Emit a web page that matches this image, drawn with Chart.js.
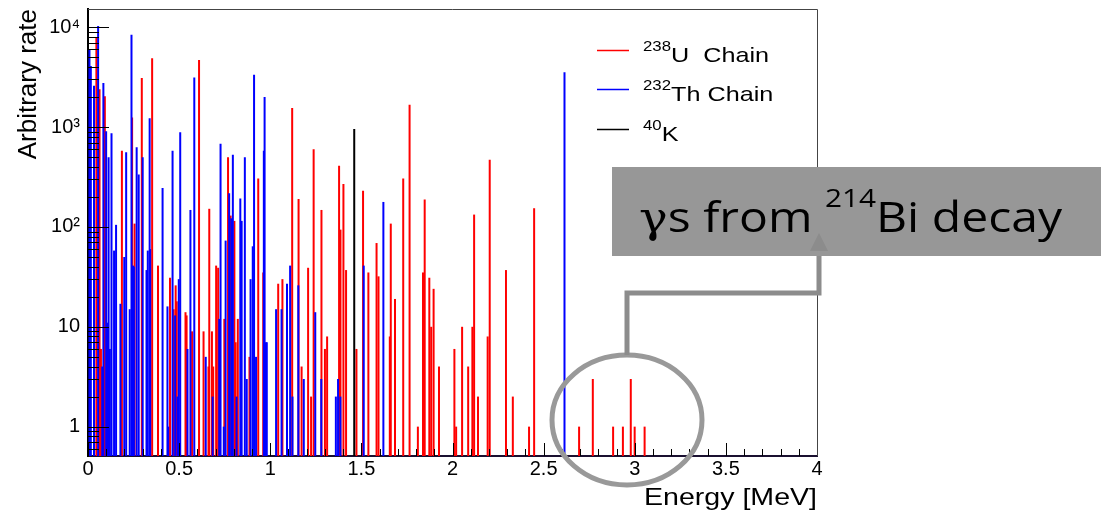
<!DOCTYPE html>
<html><head><meta charset="utf-8">
<script src="https://cdn.jsdelivr.net/npm/chart.js@4.4.1/dist/chart.umd.min.js"></script>
<style>html,body{margin:0;padding:0;background:#fff;}canvas{display:block;}</style>
</head><body>
<canvas id="c" width="1101" height="512"></canvas>
<script>
// ---- data (energy in MeV, arbitrary rate) ----
const uEnergy = [0.046,0.0633,0.071,0.0925,0.186,0.242,0.2555,0.2952,0.3519,0.384,0.450,0.470,0.481,0.487,0.535,0.541,0.571,0.6093,0.634,0.661,0.6654,0.680,0.687,0.7031,0.7141,0.719,0.748,0.7684,0.7825,0.8032,0.810,0.822,0.886,0.9341,0.9615,1.0436,1.0668,1.1203,1.1554,1.172,1.2077,1.224,1.2381,1.2810,1.300,1.312,1.3777,1.3853,1.4015,1.416,1.473,1.5092,1.5384,1.5833,1.594,1.656,1.6613,1.6844,1.7296,1.7645,1.810,1.8380,1.8474,1.8728,1.883,1.8963,1.926,2.0104,2.020,2.0527,2.086,2.109,2.1186,2.14,2.1929,2.2042,2.2934,2.331,2.42,2.4479,2.6946,2.7699,2.8812,2.9350,2.9782,2.9995,3.0541];
const uRate   = [8000,2400,6,2040,580,1250,108,3100,4900,41,31,15,26,18,14,13,9,4700,9,4,152,9,4,41,39,5,12,500,130,115,7,12,5,305,35,27,30,1550,190,4,39,2,600,148,6,8,410,94,270,37,6,230,35,69,32,8,108,19,305,1670,1,35,188,31,10,24,4,6,1,10,4,10,133,2,8,470,37,2,1,154,1,3,1,1,3,1,1];
const thEnergy = [0.008,0.0155,0.033,0.0555,0.078,0.0844,0.0995,0.105,0.113,0.12,0.129,0.143,0.154,0.178,0.199,0.2094,0.229,0.2386,0.247,0.252,0.267,0.2782,0.3001,0.321,0.328,0.3383,0.341,0.4092,0.436,0.44,0.464,0.478,0.491,0.498,0.506,0.546,0.562,0.5832,0.646,0.684,0.720,0.7273,0.745,0.7552,0.7745,0.786,0.7948,0.815,0.8357,0.843,0.8606,0.871,0.892,0.904,0.9112,0.922,0.9648,0.9690,0.976,0.981,1.032,1.062,1.092,1.109,1.122,1.154,1.184,1.247,1.28,1.36,1.372,1.385,1.5129,1.6207,2.6145];
const thRate   = [6000,4100,2600,10300,4,2760,910,11,500,6,870,58,105,17,50,560,15,8400,41,40,630,335,500,37,58,1230,60,245,16,1,580,13,2,30,890,6,148,3140,5,2,12,680,1,73,218,122,530,2,193,115,500,3,30,64,3340,5,580,2000,7,7,15,15,27,41,2,26,3,14,3,2,3,2,41,178,3550];
const kEnergy = [1.4608];
const kRate   = [960];
const xTickValues = [0,0.5,1,1.5,2,2.5,3,3.5,4];
const yTickValues = [1,10,100,1000,10000];
const yTickLabels = ['1','10','10²','10³','10⁴'];
const seriesNames = ['238U Chain','232Th Chain','40K'];
const legendSup  = ['238','232','40'];
const legendMain = ['U  Chain','Th Chain','K'];
const seriesColors = ['#ff0000','#0000ff','#000000'];

const pts = (e, v) => e.map((x, i) => ({x: x, y: v[i]}));

const FONT = "'Liberation Sans', Arial, sans-serif";
Chart.defaults.font.family = FONT;
Chart.defaults.color = '#000';

const decor = {
  id: 'decor',
  afterDatasetsDraw(chart) {
    const {ctx, chartArea: {left, right, top, bottom}, scales: {x, y}} = chart;
    ctx.save();
    ctx.strokeStyle = '#000';
    ctx.lineWidth = 1;
    ctx.beginPath();
    for (let i = 0; i <= 40; i++) {
      const px = Math.round(x.getPixelForValue(i / 10)) + 0.5;
      const len = (i % 5 === 0) ? 13 : 7;
      ctx.moveTo(px, bottom); ctx.lineTo(px, bottom - len);
    }
    for (let d = -1; d <= 4; d++) {
      for (let k = 1; k <= 9; k++) {
        const v = k * Math.pow(10, d);
        if (v < y.min || v > y.max) continue;
        const py = Math.round(y.getPixelForValue(v)) + 0.5;
        const len = k === 1 ? 21 : 11;
        ctx.moveTo(left, py); ctx.lineTo(left + len, py);
      }
    }
    ctx.stroke();
    // top / right frame
    ctx.strokeStyle = '#444';
    ctx.beginPath();
    ctx.moveTo(left, top + 0.5); ctx.lineTo(right + 0.5, top + 0.5); ctx.lineTo(right + 0.5, bottom);
    ctx.stroke();
    ctx.restore();
  },
  afterDraw(chart) {
    const ctx = chart.ctx;
    ctx.save();
    // legend
    const rowsY = [50.5, 89.5, 129.5];
    for (let i = 0; i < 3; i++) {
      ctx.strokeStyle = seriesColors[i];
      ctx.lineWidth = 1.5;
      ctx.beginPath(); ctx.moveTo(597, rowsY[i]); ctx.lineTo(629, rowsY[i]); ctx.stroke();
      ctx.save();
      ctx.translate(643, rowsY[i] + 11);
      ctx.scale(1.2, 1);
      ctx.fillStyle = '#000';
      ctx.textBaseline = 'alphabetic';
      ctx.textAlign = 'left';
      ctx.font = "14px " + FONT;
      ctx.fillText(legendSup[i], 0, -11);
      const w = ctx.measureText(legendSup[i]).width;
      ctx.font = "21px " + FONT;
      ctx.fillText(legendMain[i], w, 0);
      ctx.restore();
    }
    // x-axis title
    ctx.save();
    ctx.font = "24px " + FONT;
    ctx.fillStyle = '#000';
    ctx.textAlign = 'right';
    ctx.textBaseline = 'alphabetic';
    ctx.translate(817, 505);
    ctx.scale(1.19, 1);
    ctx.fillText('Energy [MeV]', 0, 0);
    ctx.restore();
    // ellipse
    ctx.strokeStyle = '#999999';
    ctx.lineWidth = 5;
    ctx.beginPath();
    ctx.ellipse(627, 420, 75, 65, 0, 0, Math.PI * 2);
    ctx.stroke();
    // connector
    ctx.strokeStyle = '#8c8c8c';
    ctx.lineWidth = 5;
    ctx.beginPath();
    ctx.moveTo(627, 355); ctx.lineTo(627, 293); ctx.lineTo(819, 293); ctx.lineTo(819, 248);
    ctx.stroke();
    // box
    ctx.fillStyle = '#979797';
    ctx.fillRect(612, 167, 489, 89);
    // arrow head
    ctx.fillStyle = '#8c8c8c';
    ctx.beginPath();
    ctx.moveTo(819, 233); ctx.lineTo(810, 251); ctx.lineTo(828, 251); ctx.closePath();
    ctx.fill();
    // annotation text
    const parts = [
      {t: 'γ', f: "42px 'DejaVu Serif'", dy: 0},
      {t: 's from ', f: "42px 'Open Sans'", dy: 0},
      {t: '214', f: "26px 'Open Sans'", dy: -25},
      {t: 'Bi decay', f: "42px 'Open Sans'", dy: 0}
    ];
    let total = 0;
    parts.forEach(p => { ctx.font = p.f; p.w = ctx.measureText(p.t).width; total += p.w; });
    const sc = 423 / total;
    ctx.translate(639, 232);
    ctx.scale(sc, 1);
    ctx.fillStyle = '#000';
    ctx.textAlign = 'left';
    ctx.textBaseline = 'alphabetic';
    let cx = 0;
    parts.forEach(p => { ctx.font = p.f; ctx.fillText(p.t, cx, p.dy); cx += p.w; });
    ctx.restore();
  }
};

new Chart(document.getElementById('c'), {
  type: 'bar',
  data: {
    datasets: [
      {label: seriesNames[2], data: pts(kEnergy, kRate), backgroundColor: seriesColors[2]},
      {label: seriesNames[1], data: pts(thEnergy, thRate), backgroundColor: seriesColors[1]},
      {label: seriesNames[0], data: pts(uEnergy, uRate), backgroundColor: seriesColors[0]}
    ]
  },
  options: {
    responsive: false,
    animation: false,
    devicePixelRatio: 1,
    layout: {padding: {left: 0, right: 284, top: 9, bottom: 0}},
    datasets: {bar: {barThickness: 2, grouped: false, borderWidth: 0, inflateAmount: 0}},
    plugins: {legend: {display: false}, tooltip: {enabled: false}},
    scales: {
      x: {
        type: 'linear', min: 0, max: 4, offset: false,
        grid: {display: false, drawTicks: false},
        border: {display: true, color: '#1a1030', width: 2},
        afterBuildTicks: s => { s.ticks = xTickValues.map(v => ({value: v})); },
        afterFit: s => { s.height = 56; s.paddingLeft = 0; s.paddingRight = 0; },
        ticks: {autoSkip: false, maxRotation: 0, padding: 1, font: {size: 20}, color: '#000',
                callback: v => String(v)}
      },
      y: {
        type: 'logarithmic', min: 0.508, max: 15240,
        grid: {display: false, drawTicks: false},
        border: {display: true, color: '#000', width: 2},
        afterBuildTicks: s => { s.ticks = yTickValues.map(v => ({value: v})); },
        afterFit: s => { s.width = 88; s.paddingTop = 0; s.paddingBottom = 0; },
        ticks: {autoSkip: false, padding: 8, font: {size: 20}, color: '#000',
                callback: v => { const i = yTickValues.indexOf(v); return i >= 0 ? yTickLabels[i] : ''; }},
        title: {display: true, text: 'Arbitrary rate', align: 'end', color: '#000',
                font: {size: 26}, padding: {top: 13, bottom: 0}}
      }
    }
  },
  plugins: [decor]
});
</script>
</body></html>
